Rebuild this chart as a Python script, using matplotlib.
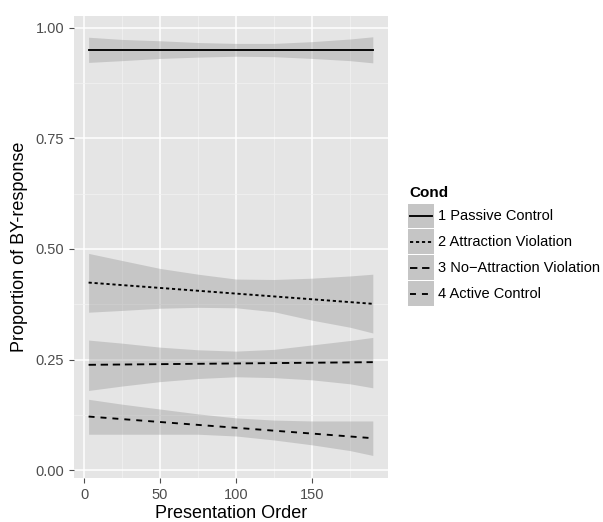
import matplotlib
matplotlib.use("Agg")
import matplotlib.pyplot as plt
from matplotlib.patches import Rectangle
from matplotlib.lines import Line2D
import numpy as np

plt.rcParams['font.family'] = ['Liberation Sans', 'DejaVu Sans']
plt.rcParams['lines.scale_dashes'] = False

# ---- data ----
order = [3, 25, 50, 75, 100, 125, 150, 175, 190]
conds = ["1 Passive Control", "2 Attraction Violation",
         "3 No\u2212Attraction Violation", "4 Active Control"]

fit_start = [0.950, 0.424, 0.238, 0.121]
fit_end = [0.950, 0.376, 0.244, 0.072]
fit_x = [3, 190]

lower1 = [0.922, 0.926, 0.931, 0.934, 0.936, 0.935, 0.931, 0.926, 0.921]
upper1 = [0.979, 0.974, 0.971, 0.967, 0.965, 0.965, 0.969, 0.975, 0.980]
lower2 = [0.357, 0.361, 0.366, 0.368, 0.367, 0.358, 0.339, 0.323, 0.310]
upper2 = [0.490, 0.474, 0.456, 0.443, 0.432, 0.431, 0.434, 0.439, 0.443]
lower3 = [0.180, 0.190, 0.200, 0.207, 0.211, 0.209, 0.204, 0.195, 0.186]
upper3 = [0.294, 0.287, 0.278, 0.272, 0.269, 0.273, 0.283, 0.293, 0.300]
lower4 = [0.081, 0.081, 0.081, 0.081, 0.077, 0.068, 0.057, 0.044, 0.033]
upper4 = [0.160, 0.149, 0.138, 0.127, 0.118, 0.113, 0.111, 0.111, 0.111]

lowers = [lower1, lower2, lower3, lower4]
uppers = [upper1, upper2, upper3, upper4]

x_ticks = [0, 50, 100, 150]
y_ticks = [0.00, 0.25, 0.50, 0.75, 1.00]
y_ticklabels = ["0.00", "0.25", "0.50", "0.75", "1.00"]

# ---- styles ----
W, H = 603, 522
dashes = [None, (0, (2.3, 2.0)), (0, (5.3, 3.4)), (0, (4.3, 4.3))]
ribbon_color = "#999999"
ribbon_alpha = 0.4
panel_bg = "#E5E5E5"
text_grey = "#4D4D4D"
lw = 1.35

fig = plt.figure(figsize=(W / 100, H / 100), dpi=100)
L, R, T, B = 74, 388, 16, 478
ax = fig.add_axes([L / W, 1 - B / H, (R - L) / W, (B - T) / H])
ax.set_facecolor(panel_bg)
for s in ax.spines.values():
    s.set_visible(False)

ax.set_xlim(-6.6, 200.0)
ax.set_ylim(-0.018, 1.027)

# grid
ax.set_xticks(x_ticks)
ax.set_xticks([25, 75, 125, 175], minor=True)
ax.set_yticks(y_ticks)
ax.set_yticklabels(y_ticklabels)
ax.set_yticks([0.125, 0.375, 0.625, 0.875], minor=True)
ax.grid(which='major', color='white', linewidth=1.1)
ax.grid(which='minor', color='#F2F2F2', linewidth=0.5)
ax.set_axisbelow(True)
ax.tick_params(which='major', length=3.8, width=0.8, color=text_grey,
               labelcolor=text_grey, labelsize=10.5, pad=3.2)
ax.tick_params(which='minor', length=0)

for lo, up, ls, y0, y1 in zip(lowers, uppers, dashes, fit_start, fit_end):
    ax.fill_between(order, lo, up, color=ribbon_color, alpha=ribbon_alpha,
                    linewidth=0)
    ln, = ax.plot(fit_x, [y0, y1], color='black', linewidth=lw)
    if ls is not None:
        ln.set_linestyle(ls)

ax.set_xlabel("Presentation Order", fontsize=13, labelpad=2.5)
ax.set_ylabel("Proportion of BY-response", fontsize=13, labelpad=5.5)

# ---- legend (drawn in pixel space) ----
lax = fig.add_axes([0, 0, 1, 1])
lax.set_xlim(0, W)
lax.set_ylim(H, 0)
lax.axis('off')
key_blend = "#C5C5C5"
lax.text(409, 197, "Cond", fontsize=11, fontweight='bold', va='baseline',
         ha='left', color='black')
key_top = 203.5
pitch = 25.9
for i, (name, ls) in enumerate(zip(conds, dashes)):
    y0 = key_top + i * pitch
    lax.add_patch(Rectangle((407.5, y0), 26, pitch - 1.0, facecolor=key_blend,
                            edgecolor='none'))
    yc = y0 + (pitch - 1.0) / 2
    ln = Line2D([410, 431.5], [yc, yc], color='black', linewidth=lw)
    if ls is not None:
        ln.set_linestyle(ls)
    lax.add_line(ln)
    lax.text(438.5, yc, name, fontsize=10.5, va='center', ha='left',
             color='black')

fig.savefig("out.png", dpi=100)
